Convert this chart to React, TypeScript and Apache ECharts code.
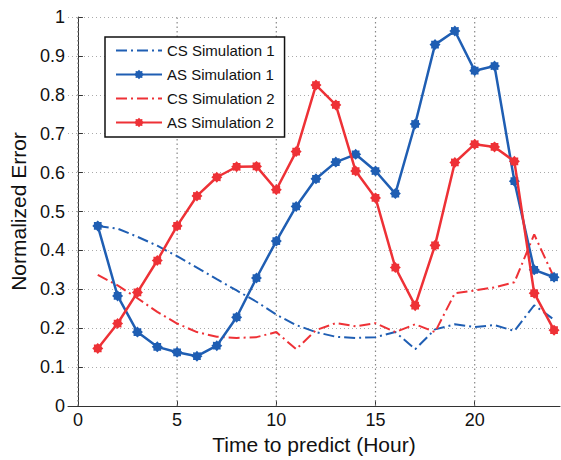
import React, { useEffect, useRef } from "react";
import * as echarts from "echarts";

const hours = [1, 2, 3, 4, 5, 6, 7, 8, 9, 10, 11, 12, 13, 14, 15, 16, 17, 18, 19, 20, 21, 22, 23, 24];
const csSim1 = [0.463, 0.456, 0.435, 0.412, 0.385, 0.356, 0.326, 0.297, 0.268, 0.235, 0.208, 0.19, 0.178, 0.175, 0.177, 0.19, 0.146, 0.197, 0.21, 0.203, 0.208, 0.193, 0.259, 0.222];
const asSim1 = [0.463, 0.283, 0.19, 0.152, 0.138, 0.128, 0.155, 0.228, 0.329, 0.424, 0.513, 0.584, 0.627, 0.647, 0.604, 0.546, 0.725, 0.929, 0.964, 0.862, 0.874, 0.578, 0.35, 0.331];
const csSim2 = [0.337, 0.31, 0.277, 0.242, 0.212, 0.19, 0.178, 0.175, 0.177, 0.19, 0.146, 0.195, 0.213, 0.205, 0.213, 0.19, 0.21, 0.19, 0.29, 0.297, 0.305, 0.318, 0.441, 0.33];
const asSim2 = [0.148, 0.212, 0.292, 0.374, 0.463, 0.54, 0.588, 0.615, 0.616, 0.556, 0.654, 0.825, 0.774, 0.604, 0.535, 0.356, 0.258, 0.413, 0.626, 0.673, 0.666, 0.629, 0.29, 0.195];
const xTicks = [0, 5, 10, 15, 20];
const yRange = [0, 1];
const seriesNames = ["CS Simulation 1", "AS Simulation 1", "CS Simulation 2", "AS Simulation 2"];

const BLUE = "#1f5eb3";
const RED = "#ee3136";
const FONT = "Liberation Sans";
const STAR =
  "path://M10 0L12.87 3.07L17.07 2.93L16.93 7.13L20 10L16.93 12.87L17.07 17.07L12.87 16.93L10 20L7.13 16.93L2.93 17.07L3.07 12.87L0 10L3.07 7.13L2.93 2.93L7.13 3.07Z";

const pairs = (ys: number[]) => hours.map((h, i) => [h, ys[i]]);

export default function App() {
  const ref = useRef<HTMLDivElement>(null);
  useEffect(() => {
    if (!ref.current) return;
    const chart = echarts.init(ref.current, undefined, { renderer: "svg" });
    const dashDot = [11, 4, 2, 4];
    const gridDot = { type: [1, 3], color: "#aaa", width: 1 };
    const vGrid = xTicks.map((v) => ({
      type: "line",
      data: yRange.map((y) => [v, y]),
      symbol: "none",
      silent: true,
      lineStyle: { type: [1.5, 3], color: "#888", width: 1.2 },
      z: 1,
    }));
    chart.setOption({
      animation: false,
      backgroundColor: "#fff",
      textStyle: { fontFamily: FONT },
      grid: { left: 68, top: 17, right: 1, bottom: 53 },
      legend: {
        orient: "vertical",
        left: 105,
        top: 37,
        data: [
          { name: seriesNames[0], itemStyle: { opacity: 0 } },
          { name: seriesNames[1] },
          { name: seriesNames[2], itemStyle: { opacity: 0 } },
          { name: seriesNames[3] },
        ],
        backgroundColor: "#fff",
        borderColor: "#111",
        borderWidth: 1.5,
        padding: [6, 10, 7, 10],
        itemWidth: 46,
        itemHeight: 12,
        itemGap: 9,
        textStyle: { fontFamily: FONT, fontSize: 15, color: "#111" },
      },
      xAxis: {
        type: "value",
        min: -0.5,
        max: 24.3,
        name: "Time to predict (Hour)",
        nameLocation: "middle",
        nameGap: 28,
        nameTextStyle: { fontFamily: FONT, fontSize: 21, color: "#111" },
        axisLine: { show: true, onZero: false, lineStyle: { color: "#333", width: 1 } },
        axisTick: { show: true, inside: true, length: 5, customValues: xTicks, lineStyle: { color: "#333" } },
        axisLabel: { customValues: xTicks, fontFamily: FONT, fontSize: 18, color: "#111", margin: 5 },
        splitLine: { show: false },
      },
      yAxis: {
        type: "value",
        min: 0,
        max: 1,
        interval: 0.1,
        name: "Normalized Error",
        nameLocation: "middle",
        nameGap: 38,
        nameTextStyle: { fontFamily: FONT, fontSize: 21, color: "#111" },
        axisLine: { show: true, lineStyle: { color: "#333", width: 1 } },
        axisTick: { show: true, inside: true, length: 5, lineStyle: { color: "#333" } },
        axisLabel: { fontFamily: FONT, fontSize: 18, color: "#111", margin: 3 },
        splitLine: { show: true, lineStyle: gridDot },
      },
      series: [
        ...vGrid,
        {
          name: seriesNames[0],
          type: "line",
          data: pairs(csSim1),
          showSymbol: false,
          symbol: "none",
          lineStyle: { color: BLUE, width: 2, type: dashDot },
          itemStyle: { color: BLUE },
          z: 3,
        },
        {
          name: seriesNames[1],
          type: "line",
          data: pairs(asSim1),
          symbol: STAR,
          symbolSize: 11,
          lineStyle: { color: BLUE, width: 2.5 },
          itemStyle: { color: BLUE },
          z: 4,
        },
        {
          name: seriesNames[2],
          type: "line",
          data: pairs(csSim2),
          showSymbol: false,
          symbol: "none",
          lineStyle: { color: RED, width: 2, type: dashDot },
          itemStyle: { color: RED },
          z: 3,
        },
        {
          name: seriesNames[3],
          type: "line",
          data: pairs(asSim2),
          symbol: STAR,
          symbolSize: 11,
          lineStyle: { color: RED, width: 2.5 },
          itemStyle: { color: RED },
          z: 5,
        },
      ],
    });
    return () => chart.dispose();
  }, []);
  return (
    <div
      ref={ref}
      style={{ position: "absolute", left: 0, top: 0, width: 561, height: 460 }}
    />
  );
}
